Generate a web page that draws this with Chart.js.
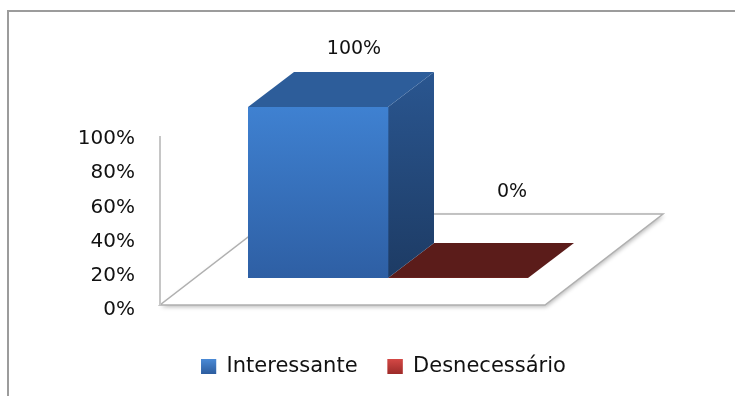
<!DOCTYPE html>
<html><head><meta charset="utf-8">
<script src="https://cdn.jsdelivr.net/npm/chart.js@4.4.1/dist/chart.umd.min.js"></script>
<style>
html,body{margin:0;padding:0;background:#fff;width:735px;height:396px;overflow:hidden}
#frame{position:absolute;left:7px;top:10px;width:900px;height:600px;border:2px solid #9c9c9c;box-sizing:border-box}
#c{position:absolute;left:0;top:0}
</style></head><body>
<div id="frame"></div>
<canvas id="c" width="735" height="396"></canvas>
<script>
// ---- data ----
const categories = [''];
const seriesNames = ['Interessante', 'Desnecessário'];
const interessanteValues = [1.0];
const desnecessarioValues = [0.0];
const tickLabels = ['0%', '20%', '40%', '60%', '80%', '100%'];

// ---- styles ----
const palettes = [
  {frontTop:'#3f81d1', frontBottom:'#2e5fa4', top:'#2d5d9a', sideTop:'#2a5690', sideBottom:'#1d3b64', legend:'#3b76c4', legendTop:'#4a8ad6', legendBottom:'#2c5c9e'},
  {frontTop:'#c0403c', frontBottom:'#8e2a28', top:'#5b1c1a', sideTop:'#6e2220', sideBottom:'#4a1414', legend:'#c63b38', legendTop:'#d44845', legendBottom:'#9c2b29'}
];
const DX = 46, DY = -35;
const FONT = '"DejaVu Sans", sans-serif';

function frontFill(i) {
  return function(c) {
    const ch = c.chart, a = ch.chartArea, p = palettes[i];
    if (!a) return p.legend;
    const g = ch.ctx.createLinearGradient(0, a.top, 0, a.bottom);
    g.addColorStop(0, p.frontTop); g.addColorStop(1, p.frontBottom);
    return g;
  };
}

function poly(ctx, pts) {
  ctx.beginPath();
  ctx.moveTo(pts[0][0], pts[0][1]);
  for (let k = 1; k < pts.length; k++) ctx.lineTo(pts[k][0], pts[k][1]);
  ctx.closePath();
}

const threeD = {
  id: 'threeD',
  beforeDatasetsDraw(chart) {
    const {ctx, chartArea: a, scales} = chart;
    const FL = [a.left - 88, a.bottom + 27], FR = [a.right + 17, a.bottom + 27];
    const BR = [a.right + 135, a.bottom - 64], BL = [a.left + 30, a.bottom - 64];
    ctx.save();
    poly(ctx, [FL, FR, BR, BL]);
    ctx.shadowColor = 'rgba(0,0,0,0.28)'; ctx.shadowBlur = 4; ctx.shadowOffsetX = 1; ctx.shadowOffsetY = 2;
    ctx.fillStyle = '#ffffff'; ctx.fill();
    ctx.shadowColor = 'transparent';
    ctx.strokeStyle = '#b0b0b0'; ctx.lineWidth = 1.5; ctx.stroke();
    // vertical axis line
    const yTop = scales.y.getPixelForValue(1) + 29;
    ctx.beginPath(); ctx.moveTo(FL[0], FL[1]); ctx.lineTo(FL[0], yTop);
    ctx.strokeStyle = '#c6c6c6'; ctx.lineWidth = 2; ctx.stroke();
    // 3D faces, back-to-front (right to left)
    for (let i = chart.data.datasets.length - 1; i >= 0; i--) {
      const bar = chart.getDatasetMeta(i).data[0];
      const {x, y, base, width} = bar.getProps(['x', 'y', 'base', 'width'], true);
      const l = x - width / 2, r = x + width / 2, p = palettes[i];
      if (base - y > 0.5) {
        const g = ctx.createLinearGradient(0, y + DY, 0, base);
        g.addColorStop(0, p.sideTop); g.addColorStop(1, p.sideBottom);
        poly(ctx, [[r, y], [r + DX, y + DY], [r + DX, base + DY], [r, base]]);
        ctx.fillStyle = g; ctx.fill();
      }
      poly(ctx, [[l, y], [r, y], [r + DX, y + DY], [l + DX, y + DY]]);
      ctx.fillStyle = p.top; ctx.fill();
    }
    ctx.restore();
  },
  afterDatasetsDraw(chart) {
    const {ctx, chartArea: a} = chart;
    ctx.save();
    ctx.font = '19px ' + FONT; ctx.fillStyle = '#111'; ctx.textAlign = 'center'; ctx.textBaseline = 'middle';
    chart.data.datasets.forEach((ds, i) => {
      const bar = chart.getDatasetMeta(i).data[0];
      const {x, y, base} = bar.getProps(['x', 'y', 'base'], true);
      const k = (base - y) / (a.bottom - a.top);
      ctx.fillText(Math.round(ds.data[0] * 100) + '%', x + 54 - 18 * k, y - 86 + 28 * k);
    });
    ctx.restore();
  },
  afterDraw(chart) {
    // give the legend swatches the same soft vertical shading as the reference
    const lg = chart.legend;
    if (!lg || !lg.legendHitBoxes) return;
    const {ctx} = chart;
    const o = lg.options.labels, fs = o.font.size, bw = o.boxWidth, bh = o.boxHeight;
    ctx.save();
    lg.legendHitBoxes.forEach((hb, i) => {
      const p = palettes[i];
      const yTop = hb.top + Math.max((fs - bh) / 2, 0);
      const g = ctx.createLinearGradient(0, yTop, 0, yTop + bh);
      g.addColorStop(0, p.legendTop); g.addColorStop(1, p.legendBottom);
      ctx.fillStyle = g;
      ctx.fillRect(hb.left, yTop, bw, bh);
    });
    ctx.restore();
  }
};

new Chart(document.getElementById('c'), {
  type: 'bar',
  data: {
    labels: categories,
    datasets: [
      {label: seriesNames[0], data: interessanteValues, backgroundColor: frontFill(0), borderWidth: 0, barPercentage: 1, categoryPercentage: 1},
      {label: seriesNames[1], data: desnecessarioValues, backgroundColor: frontFill(1), borderWidth: 0, barPercentage: 1, categoryPercentage: 1}
    ]
  },
  options: {
    responsive: false,
    animation: false,
    devicePixelRatio: 1,
    layout: {padding: {left: 32, right: 0, top: 107, bottom: 9}},
    scales: {
      x: {
        display: true,
        grid: {display: false, drawTicks: false},
        border: {display: false},
        ticks: {display: false},
        afterFit(s) { s.height = 48; s.paddingLeft = 0; s.paddingRight = 0; }
      },
      y: {
        position: 'left',
        min: 0, max: 1,
        grid: {display: false, drawTicks: false},
        border: {display: false},
        ticks: {
          stepSize: 0.2,
          padding: 113,
          labelOffset: 32,
          color: '#111',
          font: {family: FONT, size: 20},
          callback: (v, i) => tickLabels[i]
        },
        afterFit(s) { s.width = 216; s.paddingTop = 0; s.paddingBottom = 0; }
      },
      y2: {
        position: 'right',
        display: true,
        grid: {display: false, drawTicks: false},
        border: {display: false},
        ticks: {display: false},
        afterFit(s) { s.width = 207; s.paddingTop = 0; s.paddingBottom = 0; }
      }
    },
    plugins: {
      tooltip: {enabled: false},
      legend: {
        position: 'bottom',
        labels: {
          boxWidth: 15, boxHeight: 15, padding: 30,
          color: '#111',
          font: {family: FONT, size: 21},
          generateLabels(chart) {
            const items = Chart.defaults.plugins.legend.labels.generateLabels(chart);
            items.forEach((it, i) => { it.fillStyle = palettes[i].legend; it.strokeStyle = palettes[i].legend; it.lineWidth = 0; });
            return items;
          }
        }
      }
    }
  },
  plugins: [threeD]
});
</script>
</body></html>
